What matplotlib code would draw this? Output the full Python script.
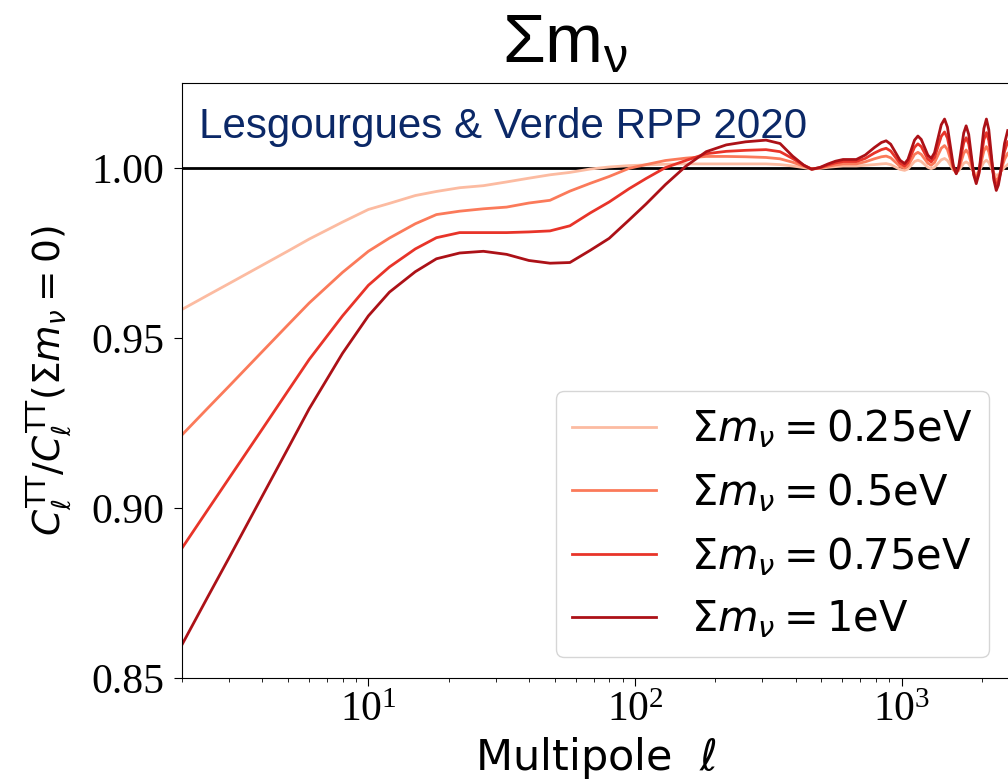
import numpy as np
import matplotlib
matplotlib.use('Agg')
import matplotlib.pyplot as plt

plt.rcParams['font.family'] = 'serif'
plt.rcParams['font.serif'] = ['Liberation Serif', 'DejaVu Serif']
plt.rcParams['mathtext.fontset'] = 'dejavusans'

# multipoles and ratio C_l(mnu) / C_l(mnu=0) for each neutrino mass
ell = [2, 2.5, 3, 4, 5, 6, 8, 10, 12, 15, 18, 22, 27, 33, 40, 48, 57, 68, 80, 95,
       110, 130, 155, 185, 220, 260, 310, 350, 390, 430, 460,
       495, 530, 565, 603, 640, 676,
       730, 790, 840, 875,
       910, 986, 1026, 1056, 1118, 1151, 1185, 1254, 1291, 1329, 1408, 1449,
       1486, 1563, 1603, 1637, 1710, 1746, 1785, 1865, 1905, 1948, 2035, 2080,
       2123, 2218, 2265,
       2307, 2350, 2390, 2432, 2500]

ratio_025 = [0.9584, 0.9626, 0.9660, 0.9714, 0.9756, 0.9791, 0.9841, 0.9878, 0.9896,
             0.9919, 0.9931, 0.9942, 0.9948, 0.9959, 0.9970, 0.9980, 0.9987, 0.9997,
             1.0003, 1.0007, 1.0009, 1.0011, 1.0012, 1.0012, 1.0012, 1.0012, 1.0012,
             1.0010, 1.0006, 1.0001, 0.9997,
             0.9999, 1.0002, 1.0004, 1.0006, 1.0006, 1.0006,
             1.0008, 1.0010, 1.0012, 1.0013,
             1.0010, 0.9996, 0.9993, 0.9997, 1.0019, 1.0023, 1.0019, 1.0002, 0.9998,
             1.0002, 1.0024, 1.0028, 1.0022, 0.9994, 0.9988, 0.9992, 1.0014, 1.0018,
             1.0013, 0.9988, 0.9983, 0.9989, 1.0017, 1.0023, 1.0016, 0.9985, 0.9978,
             0.9981, 0.9988, 0.9995, 1.0002, 1.0010]

ratio_05 = [0.9215, 0.9294, 0.9358, 0.9460, 0.9539, 0.9603, 0.9693, 0.9755, 0.9794,
            0.9836, 0.9863, 0.9873, 0.9880, 0.9885, 0.9897, 0.9905, 0.9932, 0.9955,
            0.9975, 0.9999, 1.0010, 1.0022, 1.0029, 1.0034, 1.0034, 1.0033, 1.0031,
            1.0027, 1.0017, 1.0005, 0.9997,
            1.0000, 1.0005, 1.0009, 1.0012, 1.0012, 1.0012,
            1.0018, 1.0027, 1.0033, 1.0035,
            1.0030, 1.0005, 1.0000, 1.0006, 1.0040, 1.0046, 1.0040, 1.0014, 1.0008,
            1.0016, 1.0058, 1.0066, 1.0054, 0.9998, 0.9986, 0.9996, 1.0043, 1.0053,
            1.0041, 0.9985, 0.9973, 0.9987, 1.0050, 1.0063, 1.0048, 0.9978, 0.9963,
            0.9971, 0.9987, 1.0007, 1.0025, 1.0043]

ratio_075 = [0.8882, 0.8995, 0.9087, 0.9232, 0.9345, 0.9437, 0.9565, 0.9655, 0.9709,
             0.9762, 0.9795, 0.9810, 0.9810, 0.9810, 0.9812, 0.9815, 0.9830, 0.9868,
             0.9900, 0.9939, 0.9969, 1.0001, 1.0022, 1.0042, 1.0049, 1.0052, 1.0054,
             1.0048, 1.0028, 1.0008, 0.9997,
             1.0001, 1.0009, 1.0015, 1.0019, 1.0019, 1.0019,
             1.0028, 1.0044, 1.0054, 1.0058,
             1.0050, 1.0014, 1.0006, 1.0016, 1.0061, 1.0071, 1.0063, 1.0026, 1.0018,
             1.0031, 1.0093, 1.0106, 1.0088, 1.0003, 0.9985, 1.0000, 1.0074, 1.0089,
             1.0071, 0.9982, 0.9964, 0.9984, 1.0083, 1.0104, 1.0081, 0.9972, 0.9949,
             0.9960, 0.9986, 1.0018, 1.0049, 1.0077]

ratio_1 = [0.8598, 0.8739, 0.8853, 0.9035, 0.9176, 0.9292, 0.9455, 0.9565, 0.9635,
           0.9695, 0.9733, 0.9750, 0.9755, 0.9746, 0.9728, 0.9720, 0.9722, 0.9758,
           0.9793, 0.9847, 0.9894, 0.9951, 1.0005, 1.0048, 1.0068, 1.0077, 1.0082,
           1.0072, 1.0035, 1.0008, 0.9996,
           1.0002, 1.0012, 1.0020, 1.0025, 1.0025, 1.0025,
           1.0038, 1.0060, 1.0075, 1.0080,
           1.0070, 1.0023, 1.0013, 1.0025, 1.0082, 1.0094, 1.0084, 1.0038, 1.0028,
           1.0045, 1.0127, 1.0144, 1.0120, 1.0007, 0.9983, 1.0004, 1.0103, 1.0124,
           1.0099, 0.9979, 0.9954, 0.9982, 1.0116, 1.0144, 1.0113, 0.9965, 0.9934,
           0.9950, 0.9985, 1.0030, 1.0072, 1.0110]

labels = [r'$\Sigma m_\nu = 0.25\mathrm{eV}$', r'$\Sigma m_\nu = 0.5\mathrm{eV}$',
          r'$\Sigma m_\nu = 0.75\mathrm{eV}$', r'$\Sigma m_\nu = 1\mathrm{eV}$']
series = [ratio_025, ratio_05, ratio_075, ratio_1]
colors = plt.cm.Reds([0.25, 0.45, 0.65, 0.85])

fig = plt.figure(figsize=(10.08, 7.8), dpi=100)
ax = fig.add_axes([182/1008, 102/780, (1010-182)/1008, 595/780])

ax.axhline(1.0, color='k', lw=2, zorder=1)
for y, c, lab in zip(series, colors, labels):
    ax.plot(ell, y, color=c, lw=2, label=lab, zorder=2, solid_joinstyle='round')

ax.set_xscale('log')
ax.set_xlim(2, 2550)
ax.set_ylim(0.85, 1.025)
ax.set_yticks([0.85, 0.90, 0.95, 1.00])
ax.tick_params(axis='both', which='major', labelsize=30, length=6)
ax.tick_params(axis='y', which='major', pad=7)
ax.tick_params(axis='both', which='minor', length=3)

ax.set_xlabel(r'Multipole  $\ell$', fontsize=31, family='DejaVu Sans')
ax.set_ylabel(r'$C_\ell^{\rm TT}/C_\ell^{\rm TT}(\Sigma m_\nu=0)$', fontsize=27,
              family='DejaVu Sans', labelpad=12)

ax.text(0.0205, 0.907, 'Lesgourgues & Verde RPP 2020', transform=ax.transAxes,
        fontsize=30.3, family='Liberation Sans', color='#0b2867', va='baseline')

fig.text(565/1008, 1 - 62/780, r'$\mathregular{\Sigma m_\nu}$', fontsize=50,
         family='Liberation Sans', ha='center', va='baseline')

leg = ax.legend(loc='lower right', prop={'family': 'DejaVu Sans', 'size': 30},
                handletextpad=0.85)

fig.savefig('out.png', dpi=100)
